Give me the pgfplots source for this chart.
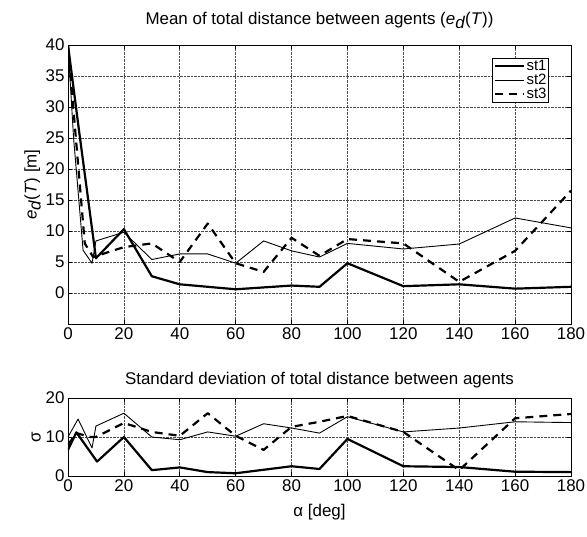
\documentclass[border=0pt]{standalone}
\usepackage{fontspec}
\setmainfont{Liberation Sans}
\usepackage{pgfplots}
\pgfplotsset{compat=1.18}
\begin{document}
\begin{tikzpicture}
\path[use as bounding box] (-68bp,-61bp) rectangle (519bp,476bp);
\pgfplotsset{
  every axis/.append style={
    scale only axis,
    width=503bp,
    xmin=0, xmax=180,
    xtick={0,20,...,180},
    grid=major,
    grid style={black!70, densely dotted, line width=0.6pt},
    axis line style={line width=0.8pt},
    tick style={black, line width=0.6pt},
    tick align=inside,
    major tick length=4bp,
    /pgf/number format/assume math mode=true,
    tick label style={font=\fontsize{17}{20}\selectfont},
    label style={font=\fontsize{17}{20}\selectfont},
    title style={font=\fontsize{17}{20}\selectfont},
    clip=true,
  },
  s1/.style={black, line width=2.2pt, line join=round},
  s2/.style={black, line width=0.9pt, line join=round},
  s3/.style={black, line width=2.2pt, dash pattern=on 8bp off 6bp, line join=round},
}
\begin{axis}[
  at={(0bp,152bp)}, anchor=south west,
  height=279bp,
  ymin=-5, ymax=40,
  ytick={0,5,...,40},
  ylabel={\textit{e}\raisebox{-0.45ex}{\textit{d}}(\textit{T}) [m]},
  ylabel style={yshift=-2bp},
  title={Mean of total distance between agents (\textit{e}\raisebox{-0.45ex}{\textit{d}}(\textit{T}))},
  title style={yshift=7bp},
  legend style={at={(0.956,0.953)}, anchor=north east, draw=black, line width=0.8pt,
    font=\fontsize{15}{16}\selectfont, inner sep=1pt, row sep=0pt,
    nodes={inner sep=1pt},
    legend cell align=left},
  legend image code/.code={\draw[#1] (0cm,0cm) -- (1.05cm,0cm);},
]
\addplot[s1] coordinates {(0,40) (4,26) (10,5.6) (20,10.3) (30,2.7) (40,1.4) (50,1.0) (60,0.6) (70,0.9) (80,1.2) (90,1.0) (100,4.8) (120,1.1) (140,1.4) (160,0.7) (180,1.0)};
\addlegendentry{st1}
\addplot[s2] coordinates {(0,40) (2,25) (5.4,6.9) (8.6,4.8) (10,8.4) (20,9.8) (30,5.4) (40,6.3) (50,6.3) (60,4.8) (70,8.4) (80,6.8) (90,5.8) (100,8.0) (120,7.1) (140,7.9) (160,12.1) (180,10.5)};
\addlegendentry{st2}
\addplot[s3] coordinates {(0,40) (3,24) (6,8) (9,5.8) (20,7.4) (30,8.0) (40,5.0) (50,11.2) (60,4.8) (70,3.4) (80,8.9) (90,6.0) (100,8.7) (120,8.0) (140,1.8) (160,6.8) (180,16.5)};
\addlegendentry{st3}
\end{axis}
\begin{axis}[
  at={(0bp,0bp)}, anchor=south west,
  height=78bp,
  ymin=0, ymax=20,
  ytick={0,10,20},
  ylabel={σ},
  ylabel style={yshift=-2bp},
  xlabel={α [deg]},
  xlabel style={yshift=-6bp},
  title={Standard deviation of total distance between agents},
  title style={yshift=0bp},
]
\addplot[s1] coordinates {(0,6.7) (3,11.2) (10.4,3.7) (20,10) (30,1.5) (40,2.2) (50,1.0) (60,0.7) (70,1.6) (80,2.5) (90,1.8) (100,9.5) (120,2.5) (140,2.3) (160,1.1) (180,1.0)};
\addplot[s2] coordinates {(0,10) (3.6,14.6) (8.6,7.2) (10,12.8) (20,16.1) (30,10) (40,9.3) (50,11.3) (60,10.2) (70,13.4) (80,12.3) (90,11) (100,15.2) (120,11.3) (140,12.3) (160,13.9) (180,13.7)};
\addplot[s3] coordinates {(0,8) (3,11) (8,10) (10,10) (20,13.6) (30,11.3) (40,10.3) (50,16.1) (60,10.3) (70,6.7) (80,12.6) (90,13.9) (100,15.4) (120,11.3) (140,1.5) (160,14.8) (180,15.9)};
\end{axis}
\end{tikzpicture}
\end{document}
